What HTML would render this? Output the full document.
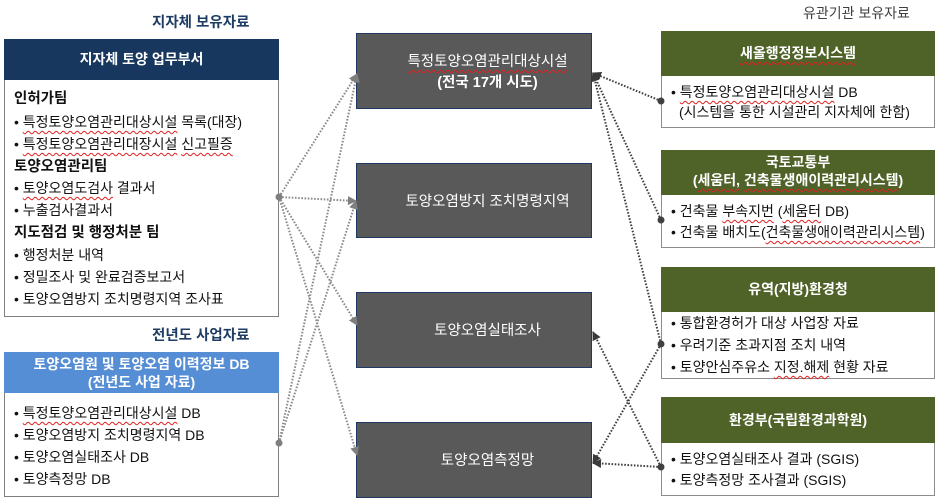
<!DOCTYPE html>
<html><head><meta charset="utf-8">
<style>
*{margin:0;padding:0;box-sizing:border-box}
body{width:940px;height:504px;background:#fff;position:relative;overflow:hidden;font-family:"Liberation Sans","Noto Sans CJK KR",sans-serif;color:#111}
.a{position:absolute;white-space:nowrap;font-size:14px;line-height:16px}
.b{font-weight:bold}
.box{position:absolute}
.w{text-decoration:underline wavy #e02020;text-decoration-thickness:1px;text-underline-offset:3px;text-decoration-skip-ink:none}
.ct{position:absolute;left:356px;width:235px;padding-left:28px;text-align:center;color:#fff;font-size:14.5px;line-height:16px;white-space:nowrap}
.rh{position:absolute;left:661px;width:274px;text-align:center;color:#fff;font-size:14px;line-height:16px;font-weight:bold;white-space:nowrap}
.lh{position:absolute;left:4px;width:275px;text-align:center;color:#fff;font-size:14px;line-height:16px;font-weight:bold;white-space:nowrap}
</style></head><body>

<!-- Titles -->
<div class="a b" style="left:152px;top:14px;font-size:14.5px;line-height:18px;color:#1f3d64">지자체 보유자료</div>
<div class="a b" style="left:152px;top:327px;font-size:14.5px;line-height:18px;color:#1f3d64">전년도 사업자료</div>
<div class="a" style="left:803px;top:5px;color:#3f3f3f">유관기관 보유자료</div>

<!-- Left panel 1 -->
<div class="box" style="left:4px;top:39px;width:275px;height:278px;border:1px solid #7f7f7f"></div>
<div class="box" style="left:4px;top:39px;width:275px;height:41px;background:#17375e"></div>
<div class="lh" style="top:51px">지자체 토양 업무부서</div>
<div class="a b" style="left:14px;top:91px;font-size:14.5px">인허가팀</div>
<div class="a" style="left:14px;top:114px">• <span class="w">특정토양오염관리대상시설</span> 목록(대장)</div>
<div class="a" style="left:14px;top:136px">• <span class="w">특정토양오염관리대장시설</span> <span class="w">신고필증</span></div>
<div class="a b" style="left:14px;top:159px;font-size:14.5px">토양오염관리팀</div>
<div class="a" style="left:14px;top:180px">• <span class="w">토양오염도검사</span> 결과서</div>
<div class="a" style="left:14px;top:202px">• 누출검사결과서</div>
<div class="a b" style="left:14px;top:225px;font-size:14.5px">지도점검 및 행정처분 팀</div>
<div class="a" style="left:14px;top:247px">• 행정처분 내역</div>
<div class="a" style="left:14px;top:269px">• 정밀조사 및 완료검증보고서</div>
<div class="a" style="left:14px;top:291px">• 토양오염방지 조치명령지역 조사표</div>

<!-- Left panel 2 -->
<div class="box" style="left:4px;top:352px;width:275px;height:145px;border:1px solid #7f7f7f"></div>
<div class="box" style="left:4px;top:352px;width:275px;height:41px;background:#558ed5"></div>
<div class="lh" style="top:356px">토양오염원 및 토양오염 이력정보 DB</div>
<div class="lh" style="top:374px">(전년도 사업 자료)</div>
<div class="a" style="left:14px;top:405px">• <span class="w">특정토양오염관리대상시설</span> DB</div>
<div class="a" style="left:14px;top:427px">• 토양오염방지 조치명령지역 DB</div>
<div class="a" style="left:14px;top:449px">• 토양오염실태조사 DB</div>
<div class="a" style="left:14px;top:471px">• 토양측정망 DB</div>

<!-- Center boxes -->
<div class="box" style="left:356px;top:33px;width:236px;height:76px;background:#595959;border:1px solid #1f3864"></div>
<div class="box" style="left:356px;top:163px;width:236px;height:75px;background:#595959;border:1px solid #1f3864"></div>
<div class="box" style="left:356px;top:292px;width:236px;height:76px;background:#595959;border:1px solid #1f3864"></div>
<div class="box" style="left:356px;top:422px;width:236px;height:76px;background:#595959;border:1px solid #1f3864"></div>
<div class="ct" style="top:54px"><span class="w">특정토양오염관리대상시설</span></div>
<div class="ct b" style="top:75px">(전국 17개 시도)</div>
<div class="ct" style="top:194px">토양오염방지 조치명령지역</div>
<div class="ct" style="top:323px">토양오염실태조사</div>
<div class="ct" style="top:453px">토양오염측정망</div>

<!-- Right boxes -->
<div class="box" style="left:661px;top:31px;width:274px;height:97px;border:1px solid #8c8c8c"></div>
<div class="box" style="left:661px;top:31px;width:274px;height:45px;background:#4f6228"></div>
<div class="rh" style="top:45px"><span class="w">새올행정정보시스템</span></div>
<div class="a" style="left:671px;top:84px">• <span class="w">특정토양오염관리대상시설</span> DB</div>
<div class="a" style="left:679px;top:104px">(시스템을 통한 시설관리 지자체에 한함)</div>

<div class="box" style="left:661px;top:150px;width:274px;height:98px;border:1px solid #8c8c8c"></div>
<div class="box" style="left:661px;top:150px;width:274px;height:45px;background:#4f6228"></div>
<div class="rh" style="top:154px">국토교통부</div>
<div class="rh" style="top:172px">(<span class="w">세움터,</span> <span class="w">건축물생애이력관리시스템</span>)</div>
<div class="a" style="left:671px;top:203px">• 건축물 <span class="w">부속지번</span> (<span class="w">세움터</span> DB)</div>
<div class="a" style="left:671px;top:224px">• 건축물 배치도(<span class="w">건축물생애이력관리시스템</span>)</div>

<div class="box" style="left:661px;top:267px;width:274px;height:112px;border:1px solid #8c8c8c"></div>
<div class="box" style="left:661px;top:267px;width:274px;height:45px;background:#4f6228"></div>
<div class="rh" style="top:281px">유역(지방)환경청</div>
<div class="a" style="left:671px;top:315px">• 통합환경허가 대상 사업장 자료</div>
<div class="a" style="left:671px;top:337px">• 우려기준 초과지점 조치 내역</div>
<div class="a" style="left:671px;top:359px">• 토양안심주유소 <span class="w">지정.해제</span> 현황 자료</div>

<div class="box" style="left:661px;top:397px;width:274px;height:99px;border:1px solid #8c8c8c"></div>
<div class="box" style="left:661px;top:397px;width:274px;height:46px;background:#4f6228"></div>
<div class="rh" style="top:412px">환경부(국립환경과학원)</div>
<div class="a" style="left:671px;top:451px">• 토양오염실태조사 결과 (SGIS)</div>
<div class="a" style="left:671px;top:472px">• 토양측정망 조사결과 (SGIS)</div>

<!-- Connectors -->
<svg width="940" height="504" style="position:absolute;left:0;top:0" xmlns="http://www.w3.org/2000/svg">
<defs>
<marker id="ag" viewBox="0 0 10 10" refX="9" refY="5" markerWidth="9" markerHeight="9" markerUnits="userSpaceOnUse" orient="auto"><path d="M0,0 L10,5 L0,10 z" fill="#7f7f7f"/></marker>
<marker id="ad" viewBox="0 0 10 10" refX="9" refY="5" markerWidth="9" markerHeight="9" markerUnits="userSpaceOnUse" orient="auto"><path d="M0,0 L10,5 L0,10 z" fill="#3a3a3a"/></marker>
</defs>
<g stroke="#8a8a8a" stroke-width="2" stroke-dasharray="1.6 1.6" fill="none">
<line x1="279" y1="197" x2="357" y2="74" marker-end="url(#ag)"/>
<line x1="279" y1="197" x2="356" y2="201" marker-end="url(#ag)"/>
<line x1="279" y1="197" x2="357" y2="325" marker-end="url(#ag)"/>
<line x1="279" y1="197" x2="357" y2="455" marker-end="url(#ag)"/>
<line x1="279" y1="443" x2="357" y2="74" marker-end="url(#ag)"/>
<line x1="279" y1="443" x2="356" y2="201" marker-end="url(#ag)"/>
</g>
<circle cx="279" cy="197" r="3.5" fill="#7f7f7f"/>
<circle cx="279" cy="443" r="3.5" fill="#7f7f7f"/>
<g stroke="#404040" stroke-width="2" stroke-dasharray="1.6 1.6" fill="none">
<line x1="661" y1="101" x2="593" y2="73" marker-end="url(#ad)"/>
<line x1="661" y1="220" x2="593" y2="73" marker-end="url(#ad)"/>
<line x1="661" y1="344" x2="593" y2="73" marker-end="url(#ad)"/>
<line x1="661" y1="467" x2="593" y2="332" marker-end="url(#ad)"/>
<line x1="661" y1="467" x2="593" y2="463" marker-end="url(#ad)"/>
<line x1="661" y1="344" x2="593" y2="463" marker-end="url(#ad)"/>
</g>
<circle cx="661" cy="101" r="3.5" fill="#404040"/>
<circle cx="661" cy="220" r="3.5" fill="#404040"/>
<circle cx="661" cy="344" r="3.5" fill="#404040"/>
<circle cx="661" cy="467" r="3.5" fill="#404040"/>
</svg>
</body></html>
